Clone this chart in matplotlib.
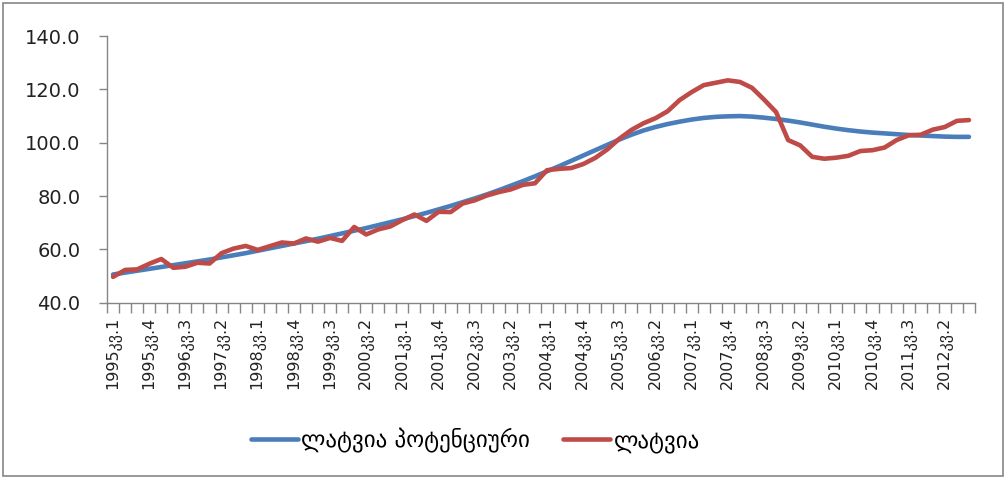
import matplotlib
matplotlib.use("Agg")
from matplotlib import pyplot as plt
from matplotlib.patches import Rectangle

# quarters 1995 Q1 .. 2012 Q4
years = list(range(1995, 2013))
quarters = [1, 2, 3, 4]
categories = ["%dკვ.%d" % (y, q) for y in years for q in quarters]

# ლატვია პოტენციური (potential)
potential = [
    50.6, 51.3, 52.0, 52.7, 53.4, 54.1, 54.8, 55.5, 56.2, 57.0,
    57.8, 58.6, 59.5, 60.4, 61.3, 62.2, 63.1, 64.0, 65.0, 66.0,
    67.0, 68.0, 69.1, 70.2, 71.3, 72.5, 73.7, 75.0, 76.3, 77.7,
    79.1, 80.6, 82.2, 83.9, 85.6, 87.4, 89.3, 91.2, 93.2, 95.2,
    97.2, 99.2, 101.2, 103.0, 104.6, 105.9, 107.0, 107.9, 108.7, 109.3,
    109.7, 109.9, 110.0, 109.8, 109.4, 108.9, 108.3, 107.6, 106.8, 106.0,
    105.3, 104.7, 104.2, 103.8, 103.5, 103.2, 102.9, 102.7, 102.5, 102.3,
    102.2, 102.2,
]

# ლატვია (actual)
actual = [
    49.7, 52.3, 52.5, 54.6, 56.4, 53.1, 53.5, 55.0, 54.7, 58.6,
    60.3, 61.3, 59.8, 61.2, 62.6, 62.2, 64.1, 62.9, 64.3, 63.2,
    68.4, 65.6, 67.5, 68.6, 71.0, 73.1, 70.7, 74.1, 74.0, 77.2,
    78.4, 80.2, 81.5, 82.5, 84.2, 84.8, 89.7, 90.2, 90.5, 92.0,
    94.3, 97.5, 101.5, 104.8, 107.3, 109.2, 111.8, 116.0, 119.0, 121.6,
    122.5, 123.4, 122.8, 120.6, 116.2, 111.5, 101.0, 99.0, 94.7, 94.0,
    94.4, 95.1, 96.9, 97.2, 98.2, 101.0, 102.8, 103.0, 104.9, 105.9,
    108.2, 108.5,
]

yticks = [40, 60, 80, 100, 120, 140]

axisColor = "#868686"
blue = "#4A7EBB"
red = "#BE4B48"

plt.rcParams["font.family"] = ["DejaVu Sans"]

fig = plt.figure(figsize=(10.07, 4.79), dpi=100)
ax = fig.add_axes([0.1063, 0.368, 0.8619, 0.5567])

x = list(range(len(categories)))
ax.plot(x, potential, color=blue, linewidth=3.3, label="ლატვია პოტენციური",
        solid_capstyle="round")
ax.plot(x, actual, color=red, linewidth=3.3, label="ლატვია",
        solid_capstyle="round")

ax.set_xlim(-0.5, len(categories) - 0.5)
ax.set_ylim(40, 140)
ax.set_yticks(yticks)
ax.set_yticklabels(["%.1f" % v for v in yticks], fontsize=14, color="#222222")

ax.set_xticks(x[::3])
ax.set_xticklabels(categories[::3], rotation=90, fontsize=11.5, color="#222222")
ax.set_xticks([i - 0.5 for i in range(len(categories) + 1)], minor=True)
ax.tick_params(axis="x", which="major", length=0, pad=10)
ax.tick_params(axis="x", which="minor", length=7, width=1, color=axisColor)
ax.tick_params(axis="y", length=6, width=1, color=axisColor, pad=13)

for side in ["top", "right"]:
    ax.spines[side].set_visible(False)
for side in ["left", "bottom"]:
    ax.spines[side].set_color(axisColor)
    ax.spines[side].set_linewidth(1)

fig.legend(
    loc="center",
    bbox_to_anchor=(0.472, 0.081),
    ncol=2,
    frameon=False,
    fontsize=16.5,
    handlelength=2.05,
    handletextpad=0.15,
    columnspacing=1.45,
)

fig.patches.append(Rectangle((3 / 1007, 3 / 479), 1000 / 1007, 473 / 479,
                             transform=fig.transFigure, fill=False,
                             edgecolor=axisColor, linewidth=1.2))

fig.savefig("out.png", dpi=100)
